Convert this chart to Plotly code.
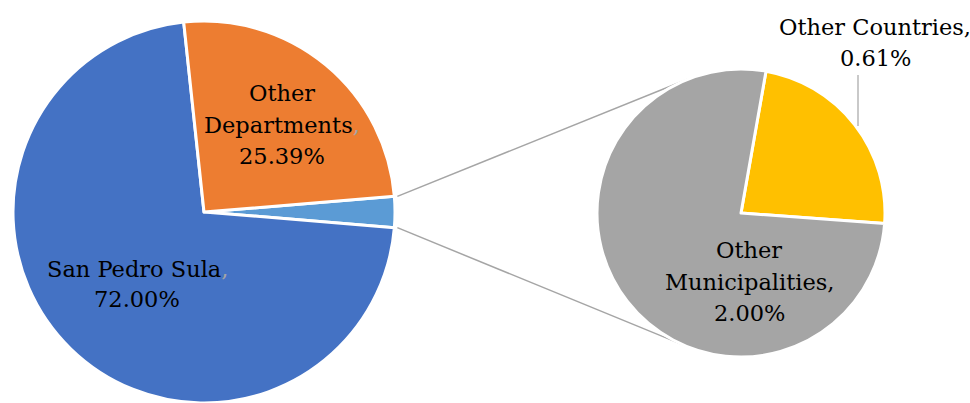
import math
import plotly.graph_objects as go

# Residence of patients: main breakdown and the detail of the small "other" share
main_labels = ["San Pedro Sula", "Other Departments"]
main_values = [72.00, 25.39]
detail_labels = ["Other Countries", "Other Municipalities"]
detail_values = [0.61, 2.00]

main_colors = ["#4472C4", "#ED7D31"]
split_color = "#5B9BD5"
detail_colors = ["#FFC000", "#A5A5A5"]

# Canvas geometry (pixels)
W, H = 970, 403
TOP = 21
PH = H - TOP
MAIN_C = (204, TOP + PH / 2)
MAIN_R = PH / 2
DET_C = (741, 213)
DET_R = 144
DET_ROTATION = 10

FONT = "DejaVu Serif"
FS = 22.5
LINE_COLOR = "#A5A5A5"


def px_to_paper(x, y):
    return x / W, (H - y) / PH


split_value = sum(detail_values)
main_total = split_value + sum(main_values)
split_deg = 360 * split_value / main_total
main_rotation = 90 - split_deg / 2

fig = go.Figure()

fig.add_trace(go.Pie(
    labels=["Other (detail)"] + main_labels,
    values=[split_value] + main_values,
    sort=False,
    direction="clockwise",
    rotation=main_rotation,
    marker=dict(colors=[split_color] + main_colors,
                line=dict(color="white", width=3)),
    textinfo="none",
    hoverinfo="label+percent",
    domain=dict(x=[(MAIN_C[0] - MAIN_R) / W, (MAIN_C[0] + MAIN_R) / W], y=[0, 1]),
    showlegend=False,
))

# detail pie: vertical domain chosen so its centre sits at DET_C
det_h = 2 * (H - DET_C[1])
fig.add_trace(go.Pie(
    labels=detail_labels,
    values=detail_values,
    sort=False,
    direction="clockwise",
    rotation=DET_ROTATION,
    marker=dict(colors=detail_colors, line=dict(color="white", width=3)),
    textinfo="none",
    hoverinfo="label+value",
    domain=dict(x=[(DET_C[0] - DET_R) / W, (DET_C[0] + DET_R) / W], y=[0, det_h / PH]),
    showlegend=False,
))

# Connector lines from the split slice edges to the detail pie
shapes = []
for ang_deg, upper in ((main_rotation, True), (main_rotation + split_deg, False)):
    a = math.radians(ang_deg)
    px = MAIN_C[0] + MAIN_R * math.sin(a)
    py = MAIN_C[1] - MAIN_R * math.cos(a)
    vx, vy = px - DET_C[0], py - DET_C[1]
    d = math.hypot(vx, vy)
    beta = math.atan2(vy, vx)
    alpha = math.acos(DET_R / d)
    cands = [(DET_C[0] + DET_R * math.cos(beta + s * alpha),
              DET_C[1] + DET_R * math.sin(beta + s * alpha)) for s in (1, -1)]
    tx, ty = min(cands, key=lambda p: p[1]) if upper else max(cands, key=lambda p: p[1])
    x0, y0 = px_to_paper(px + 3, py)
    x1, y1 = px_to_paper(tx, ty)
    shapes.append(dict(type="line", xref="paper", yref="paper", x0=x0, y0=y0, x1=x1, y1=y1,
                       line=dict(color=LINE_COLOR, width=1.5), layer="below"))

# Leader line for the small detail slice
lx0, ly0 = px_to_paper(858, 75)
lx1, ly1 = px_to_paper(858, 126)
shapes.append(dict(type="line", xref="paper", yref="paper", x0=lx0, y0=ly0, x1=lx1, y1=ly1,
                   line=dict(color=LINE_COLOR, width=1.2)))

GRAY_COMMA = '<span style="color:#A5A5A5">,</span>'


def pct(v):
    return f"{v:.2f}%"


def label_lines(cx, ys, lines):
    out = []
    for y, t in zip(ys, lines):
        x, yp = px_to_paper(cx, y)
        out.append(dict(x=x, y=yp, xref="paper", yref="paper", text=t, showarrow=False,
                        xanchor="center", yanchor="middle",
                        font=dict(family=FONT, size=FS, color="#000000")))
    return out


first, rest = main_labels[1].split(" ", 1)
annotations = []
annotations += label_lines(282, [93, 125, 156], [first, rest + GRAY_COMMA, pct(main_values[1])])
annotations += label_lines(137, [269, 299], [main_labels[0] + GRAY_COMMA, pct(main_values[0])])
d_first, d_rest = detail_labels[1].split(" ", 1)
annotations += label_lines(749, [250, 282, 313], [d_first, d_rest + ",", pct(detail_values[1])])
annotations += label_lines(875, [27, 58], [detail_labels[0] + ",", pct(detail_values[0])])

fig.update_layout(
    width=W, height=H,
    margin=dict(l=0, r=0, t=TOP, b=0, pad=0),
    paper_bgcolor="white",
    plot_bgcolor="white",
    shapes=shapes,
    annotations=annotations,
)

fig.write_html("out.html")
